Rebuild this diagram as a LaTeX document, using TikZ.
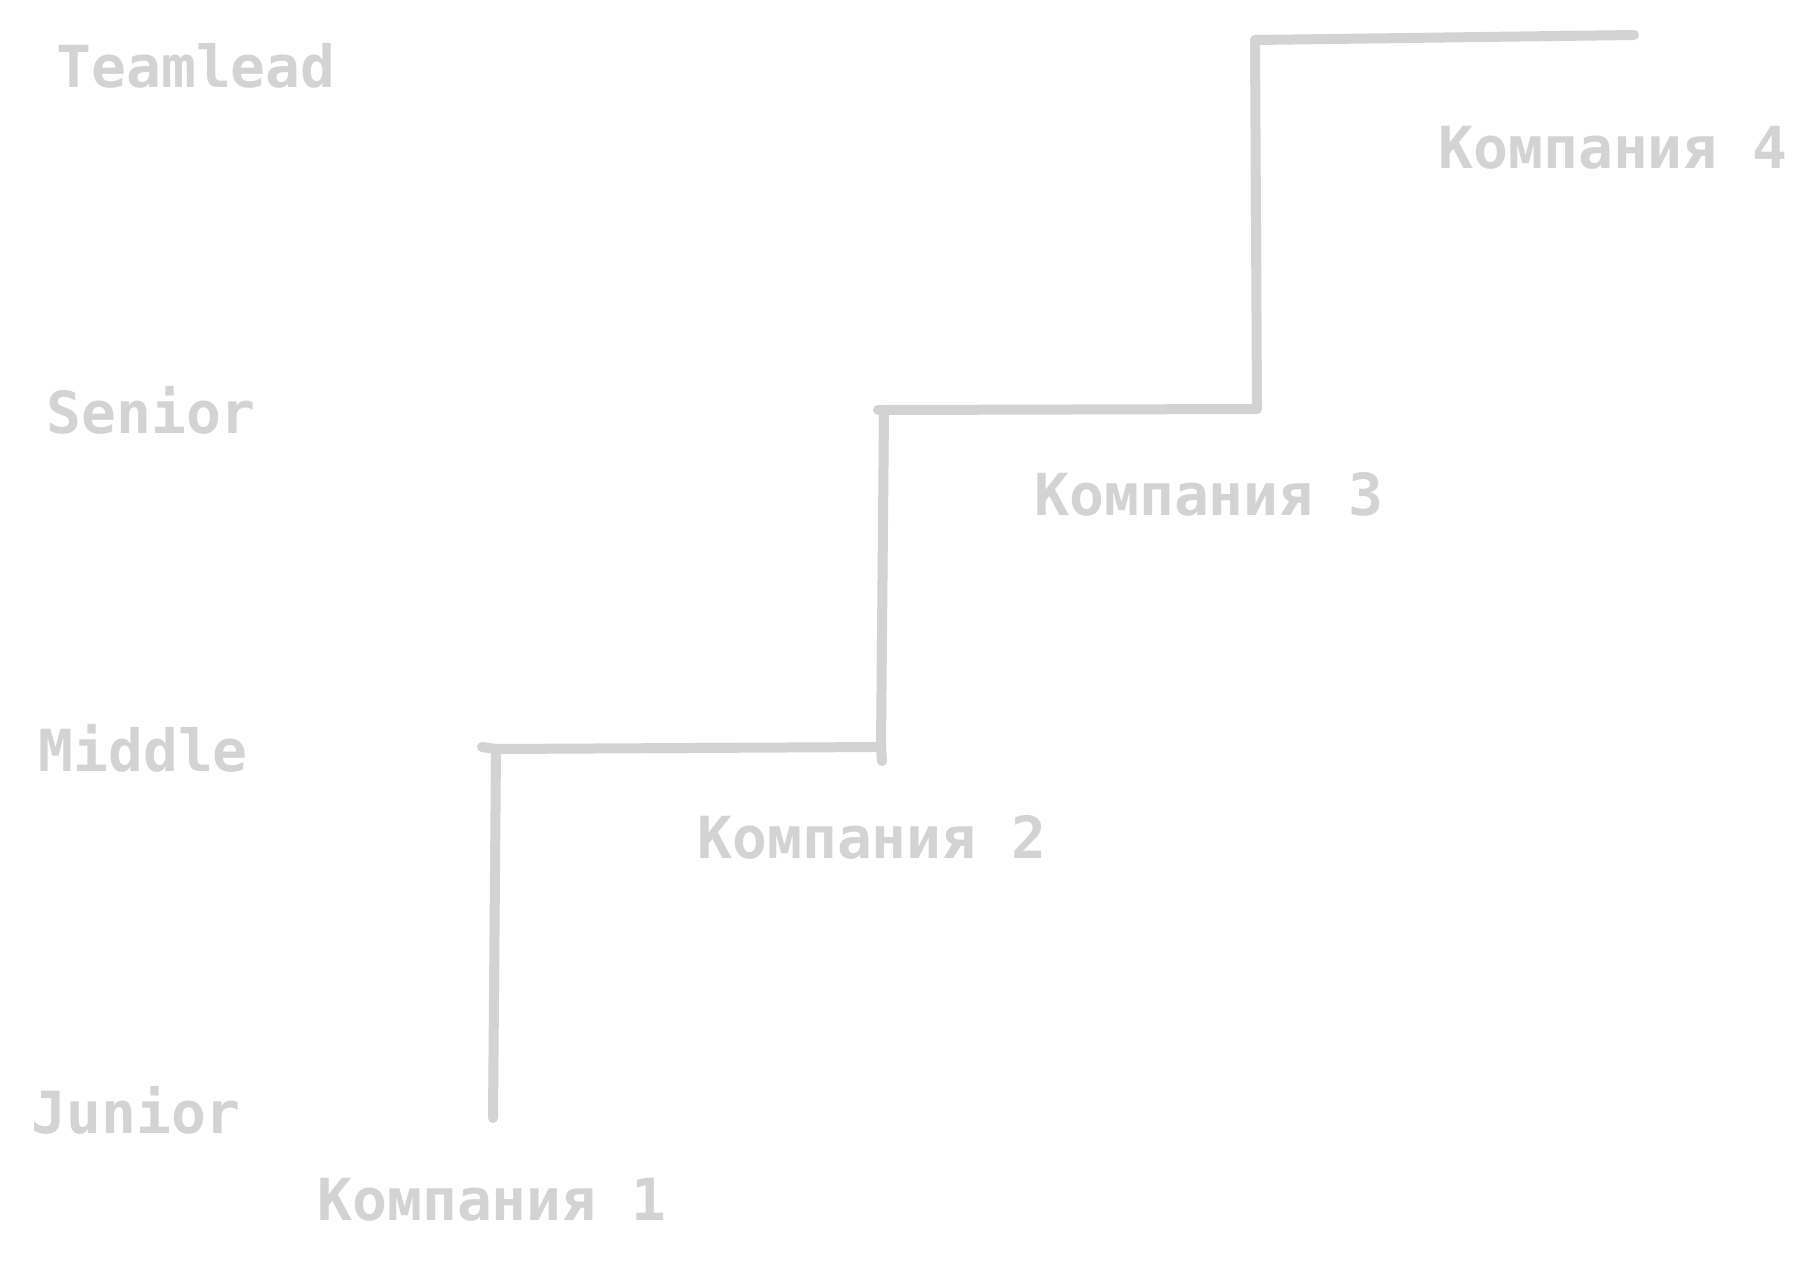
\documentclass[tikz,border=0pt]{standalone}
\usepackage{fontspec}
\setmainfont{DejaVu Sans Mono}
\usepackage{tikz}
\usetikzlibrary{calc,positioning}
\definecolor{stairgray}{RGB}{211,211,211}
\tikzset{
  level/.style={font=\fontsize{29}{34}\selectfont\bfseries,text=stairgray,inner sep=0pt,anchor=base west},
  stair/.style={stairgray,line width=5pt,line cap=round,line join=round}
}

\begin{document}
\begin{tikzpicture}[x=0.5pt,y=-0.5pt]
        \useasboundingbox (0,0) rectangle (1819,1263);
        % grades
        \node[level] (teamlead) at (56,88) {Teamlead};
        \node[level] (senior) at (46,433) {Senior};
        \node[level] (middle) at (38,771) {Middle};
        \node[level] (junior) at (31,1133) {Junior};
        % companies
        \node[level] (comp1) at (317,1220) {Компания 1};
        \node[level] (comp2) at (697,858) {Компания 2};
        \node[level] (comp3) at (1034,515) {Компания 3};
        \node[level] (comp4) at (1438,168) {Компания 4};
        % staircase
        \coordinate (s0) at (493,1118);
        \coordinate (s1) at (496,749);
        \coordinate (s2) at (881,747);
        \coordinate (s3) at (884,410);
        \coordinate (s4) at (1257,409);
        \coordinate (s5) at (1255,40);
        \coordinate (s6) at (1634,35);
        \draw[stair] (s0) -- (s1) -- (s2) -- (s3) -- (s4) -- (s5) -- (s6);
        \draw[stair] (s1) -- ++(-14,-2);
        \draw[stair] (s2) -- ++(1,14);
        \draw[stair] (s3) -- ++(-6,0);
      \end{tikzpicture}
\end{document}
